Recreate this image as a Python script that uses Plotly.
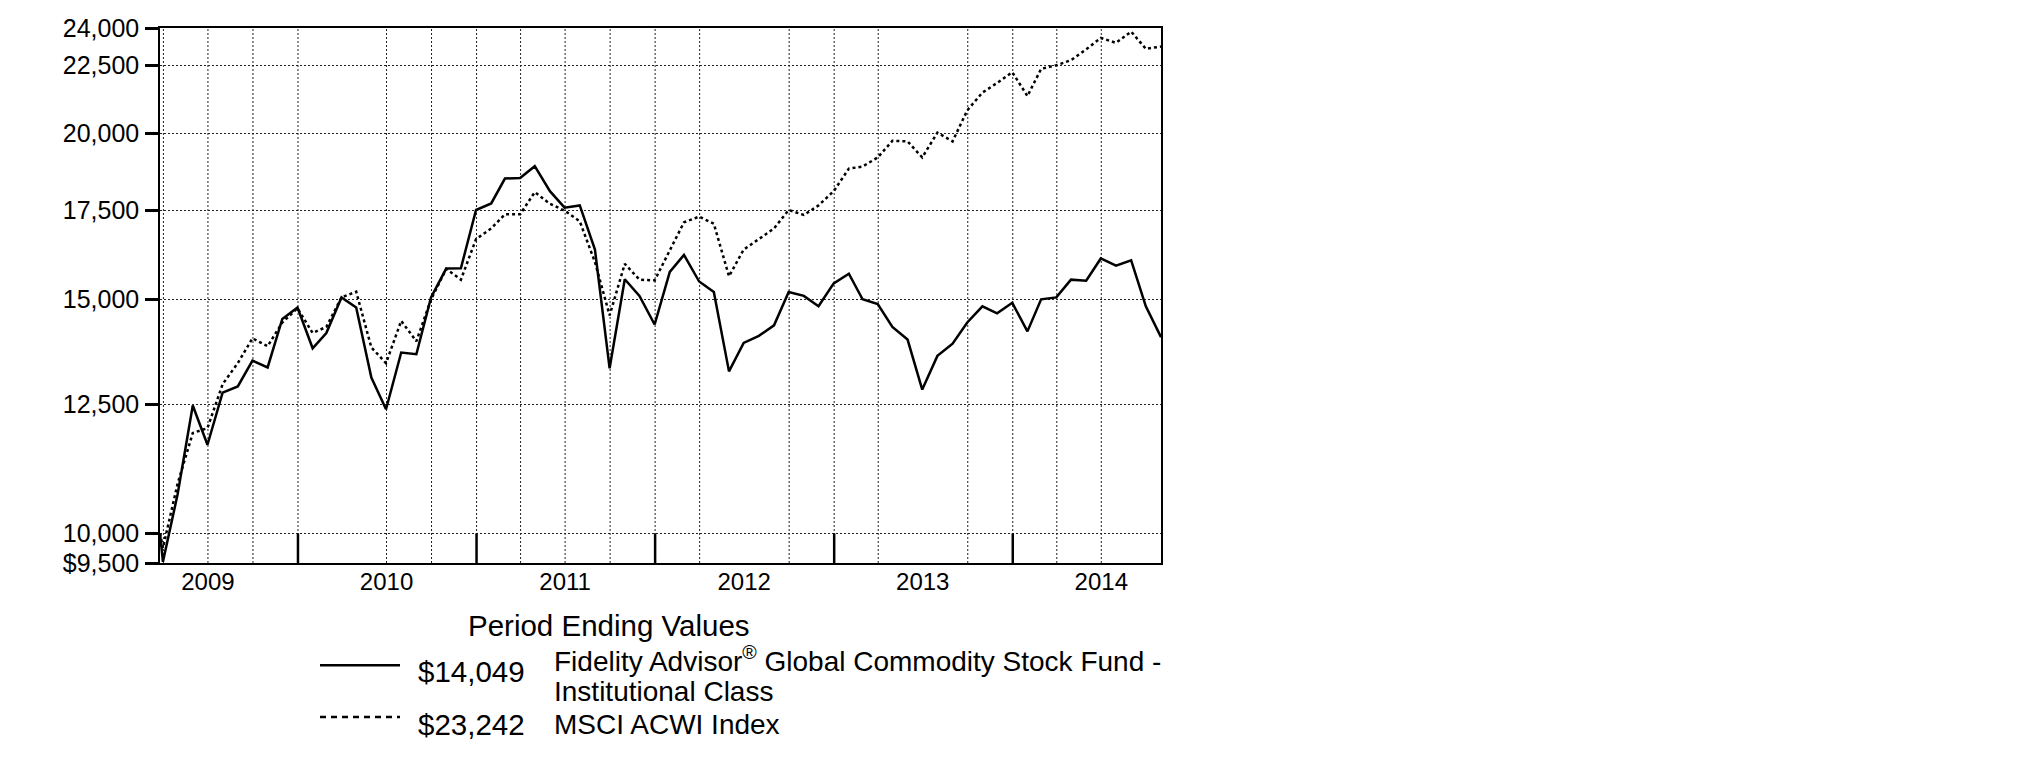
import math
import pandas as pd
import plotly.graph_objects as go

# ---------------- data ----------------
inception = "2009-03-25"
month_ends = [d.strftime("%Y-%m-%d") for d in pd.date_range("2009-03-31", "2014-10-31", freq="ME")]
dates = [inception] + month_ends

fund_name = "Fidelity Advisor<sup>®</sup> Global Commodity Stock Fund -"
fund_name2 = "Institutional Class"
index_name = "MSCI ACWI Index"

fund_values = [
    10000,
    9520, 10700, 12480, 11660, 12760, 12900, 13490, 13330, 14500, 14790,
    13780, 14150, 15050, 14790, 13100, 12400, 13680, 13640, 15050, 15820, 15830, 17510,
    17710, 18490, 18510, 18890, 18090, 17580, 17650, 16350, 13310, 15530, 15090, 14360,
    15730, 16200, 15470, 15190, 13240, 13910, 14080, 14340, 15190, 15090, 14820, 15420,
    15680, 15000, 14880, 14300, 13990, 12830, 13600, 13890, 14410, 14820, 14640, 14910,
    14190, 15000, 15050, 15520, 15490, 16100, 15900, 16050, 14820, 14049,
]
index_values = [
    10000,
    9750, 10900, 11900, 12000, 12950, 13430, 14020, 13830, 14410, 14770,
    14150, 14300, 15050, 15200, 13800, 13430, 14450, 13950, 15000, 15810, 15520, 16650,
    16960, 17380, 17380, 18060, 17700, 17490, 17170, 16000, 14590, 15950, 15520, 15500,
    16350, 17140, 17310, 17100, 15610, 16350, 16650, 16960, 17510, 17360, 17650, 18090,
    18810, 18880, 19180, 19740, 19720, 19180, 20020, 19720, 20810, 21460, 21820, 22230,
    21330, 22360, 22500, 22700, 23130, 23590, 23390, 23850, 23150, 23242,
]

y_tickvals = [9500, 10000, 12500, 15000, 17500, 20000, 22500, 24000]
y_ticktext = ["$9,500", "10,000", "12,500", "15,000", "17,500", "20,000", "22,500", "24,000"]
y_min, y_max = 9500, 24000

year_label_dates = ["2009-07-01", "2010-07-01", "2011-07-01", "2012-07-01", "2013-07-01", "2014-07-01"]
year_labels = ["2009", "2010", "2011", "2012", "2013", "2014"]
year_tick_dates = ["2010-01-01", "2011-01-01", "2012-01-01", "2013-01-01", "2014-01-01"]
grid_dates = [
    "2009-04-01", "2009-07-01", "2009-10-01", "2010-01-01", "2010-07-01", "2010-10-01",
    "2011-01-01", "2011-04-01", "2011-07-01", "2011-10-01", "2012-01-01", "2012-04-01",
    "2012-10-01", "2013-01-01", "2013-04-01", "2013-10-01", "2014-01-01", "2014-04-01",
    "2014-07-01",
]
x_start, x_end = "2009-03-25", "2014-10-31"

# ---------------- layout geometry (page pixels) ----------------
W, H = 2025, 773
BODY = 8  # default page margin around the plot div
PL, PR, PT, PB = 160, 1161, 14, 563
FONT = "Liberation Sans, Arial, sans-serif"


def xp(px):
    return (px - PL) / (PR - PL)


def yp(py):
    return (PB - py) / (PB - PT)


fig = go.Figure()
fig.add_trace(go.Scatter(
    x=dates, y=index_values, mode="lines", name=index_name,
    line=dict(color="black", width=2.5, dash="3px,3px"), showlegend=False,
))
fig.add_trace(go.Scatter(
    x=dates, y=fund_values, mode="lines", name="Fund",
    line=dict(color="black", width=2.5), showlegend=False,
))

shapes = []
for d in grid_dates:
    shapes.append(dict(type="line", xref="x", yref="paper", x0=d, x1=d, y0=0, y1=1,
                       layer="below", line=dict(color="#222", width=1, dash="2px,2px")))
for d in year_tick_dates:
    shapes.append(dict(type="line", xref="x", yref="y", x0=d, x1=d, y0=y_min, y1=10000,
                       layer="above", line=dict(color="black", width=2.5)))
shapes.append(dict(type="line", xref="paper", yref="paper", x0=xp(320), x1=xp(400),
                   y0=yp(668), y1=yp(668), line=dict(color="black", width=2.5)))
shapes.append(dict(type="line", xref="paper", yref="paper", x0=xp(320), x1=xp(400),
                   y0=yp(721), y1=yp(721), line=dict(color="black", width=2.5, dash="6px,5px")))

ann = []


def add_text(text, px, py, size=28):
    ann.append(dict(text=text, xref="paper", yref="paper", x=xp(px), y=yp(py),
                    xanchor="left", yanchor="middle", showarrow=False, align="left",
                    font=dict(family=FONT, size=size, color="black")))


add_text("Period Ending Values", 466, 627, size=29.5)
add_text(f"${fund_values[-1]:,}", 416, 674, size=29.5)
add_text(fund_name, 552, 662)
add_text(fund_name2, 552, 695)
add_text(f"${index_values[-1]:,}", 416, 729, size=29.5)
add_text(index_name, 552, 729)

fig.update_layout(
    width=W, height=H,
    margin=dict(l=PL - BODY, r=W + BODY - PR, t=PT - BODY, b=H + BODY - PB, pad=0),
    paper_bgcolor="white", plot_bgcolor="white",
    font=dict(family=FONT, color="black"),
    shapes=shapes, annotations=ann,
    xaxis=dict(
        type="date", range=[x_start, x_end],
        tickmode="array", tickvals=year_label_dates, ticktext=year_labels,
        ticks="", showgrid=False, zeroline=False,
        showline=True, linecolor="black", linewidth=1.5, mirror=True,
        tickfont=dict(family=FONT, size=24, color="black"),
        ticklabelstandoff=-4, ticklabeloverflow="allow",
    ),
    yaxis=dict(
        type="log", range=[math.log10(y_min), math.log10(y_max)],
        tickmode="array", tickvals=y_tickvals, ticktext=y_ticktext,
        ticks="outside", ticklen=13, tickwidth=2.5, tickcolor="black",
        showgrid=True, gridcolor="#222", gridwidth=1, griddash="2px,2px",
        zeroline=False, showline=True, linecolor="black", linewidth=1.5, mirror=True,
        tickfont=dict(family=FONT, size=25, color="black"),
        ticklabelstandoff=1, ticklabeloverflow="allow",
    ),
)

fig.write_html("out.html")
